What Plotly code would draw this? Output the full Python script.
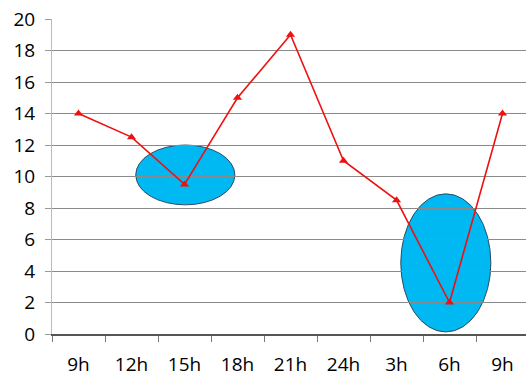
import plotly.graph_objects as go

labels = ["9h", "12h", "15h", "18h", "21h", "24h", "3h", "6h", "9h"]
values = [14, 12.5, 9.5, 15, 19, 11, 8.5, 2, 14]
positions = list(range(len(labels)))
yticks = [0, 2, 4, 6, 8, 10, 12, 14, 16, 18, 20]

fig = go.Figure()
fig.add_trace(go.Scatter(
    x=positions, y=values, mode="lines+markers",
    line=dict(color="#ee1111", width=1.6),
    marker=dict(symbol="triangle-up", size=8, color="#ee1111"),
    showlegend=False, hoverinfo="skip"))

ell_style = dict(type="circle", xref="x", yref="y", layer="below",
                 fillcolor="#00b8f2", line=dict(color="#2c4c66", width=1))
fig.add_shape(x0=1.08, x1=2.95, y0=8.2, y1=12.0, **ell_style)
fig.add_shape(x0=6.08, x1=7.78, y0=0.13, y1=8.9, **ell_style)

fig.update_layout(
    width=526, height=373,
    margin=dict(l=52, r=0, t=19, b=39),
    paper_bgcolor="white", plot_bgcolor="white",
    font=dict(family="Open Sans", size=19, color="#000000"),
)
fig.update_xaxes(
    range=[-0.5, 8.443], tickvals=positions, ticktext=labels,
    ticks="", showgrid=False, zeroline=False, ticklabelstandoff=12,
    showline=True, linecolor="#555555", linewidth=1.5, automargin=False,
    minor=dict(tickvals=[p + 0.5 for p in positions[:-1]] + [-0.5],
               ticks="outside", ticklen=6, tickcolor="#777777", tickwidth=1,
               showgrid=False),
    fixedrange=True,
)
fig.update_yaxes(
    range=[0, 20], tickvals=yticks, ticks="outside", ticklen=6,
    tickcolor="#999999", showgrid=True, gridcolor="#8a8a8a", gridwidth=1,
    zeroline=False, showline=True, linecolor="#bbbbbb", linewidth=1,
    ticklabelstandoff=6, automargin=False, fixedrange=True,
)
fig.write_html("out.html")
